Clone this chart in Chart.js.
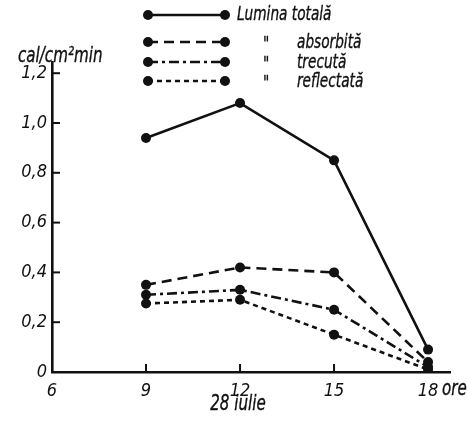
<!DOCTYPE html>
<html>
<head>
<meta charset="utf-8">
<script src="https://cdn.jsdelivr.net/npm/chart.js@4.4.0/dist/chart.umd.min.js"></script>
<style>
  html, body { margin: 0; padding: 0; background: #fff; }
  #wrap { width: 467px; height: 422px; position: relative; }
</style>
</head>
<body>
<div id="wrap"><canvas id="chart"></canvas></div>
<script>
// hours of the day, 28 iulie
var hours = [9, 12, 15, 18];
var totala = [0.94, 1.08, 0.85, 0.09];
var absorbita = [0.35, 0.42, 0.40, 0.04];
var trecuta = [0.31, 0.33, 0.25, 0.02];
var reflectata = [0.275, 0.29, 0.15, 0.01];

var xTicks = [6, 9, 12, 15, 18];
var yTicks = [0, 0.2, 0.4, 0.6, 0.8, 1.0, 1.2];
var legendNames = ['Lumina totală', 'absorbită', 'trecută', 'reflectată'];

var FONT = "'DejaVu Sans Condensed', 'DejaVu Sans', sans-serif";
var INK = '#111';

function pts(values) {
    return hours.map(function(h, i) { return { x: h, y: values[i] }; });
}

var dashes = [[], [10, 6], [10, 4, 3, 4], [5, 4]];
var series = [totala, absorbita, trecuta, reflectata];

var datasets = series.map(function(values, i) {
    return {
        label: legendNames[i],
        data: pts(values),
        borderColor: INK,
        backgroundColor: INK,
        borderWidth: 2.6,
        borderDash: dashes[i],
        pointRadius: 5,
        pointHoverRadius: 5,
        pointBackgroundColor: INK,
        pointBorderWidth: 0,
        tension: 0,
        fill: false
    };
});

// narrow italic text, squeezed horizontally like the printed lettering
function narrowText(ctx, text, x, y, size, align) {
    var sx = 0.8;
    ctx.save();
    ctx.font = 'italic ' + size + 'px ' + FONT;
    var w = ctx.measureText(text).width * sx;
    var left = x;
    if (align === 'center') left = x - w / 2;
    ctx.translate(left, y);
    ctx.scale(sx, 1);
    ctx.textAlign = 'left';
    ctx.textBaseline = 'middle';
    ctx.lineWidth = 0.35;
    ctx.fillText(text, 0, 0);
    ctx.strokeText(text, 0, 0);
    ctx.restore();
}

// draws inward tick marks, legend and extra texts
var decorPlugin = {
    id: 'decor',
    afterDraw: function(chart) {
        var ctx = chart.ctx;
        var xs = chart.scales.x, ys = chart.scales.y;
        var area = chart.chartArea;
        ctx.save();
        ctx.strokeStyle = INK;
        ctx.fillStyle = INK;
        ctx.lineWidth = 2;
        ctx.setLineDash([]);
        // y ticks point into the plot
        yTicks.forEach(function(v) {
            if (v === 0) return;
            var py = ys.getPixelForValue(v);
            ctx.beginPath();
            ctx.moveTo(area.left, py);
            ctx.lineTo(area.left + 8, py);
            ctx.stroke();
        });
        // x ticks point up
        xTicks.forEach(function(v) {
            if (v === 6) return;
            var px = xs.getPixelForValue(v);
            ctx.beginPath();
            ctx.moveTo(px, area.bottom);
            ctx.lineTo(px, area.bottom - 8);
            ctx.stroke();
        });

        narrowText(ctx, 'cal/cm²min', 18, 57, 21, 'left');
        narrowText(ctx, 'ore', xs.getPixelForValue(18) + 14, 390, 21, 'left');
        narrowText(ctx, '28 iulie', 238, 405, 21, 'center');

        // legend
        var rows = [15, 42, 62, 81];
        var x0 = 148, x1 = 225;
        datasets.forEach(function(ds, i) {
            var y = rows[i];
            ctx.beginPath();
            ctx.setLineDash(ds.borderDash);
            ctx.lineWidth = 2.6;
            ctx.moveTo(x0, y);
            ctx.lineTo(x1, y);
            ctx.stroke();
            ctx.setLineDash([]);
            [x0, x1].forEach(function(px) {
                ctx.beginPath();
                ctx.arc(px, y, 5, 0, Math.PI * 2);
                ctx.fill();
            });
            if (i === 0) {
                narrowText(ctx, legendNames[i], 237, y, 19, 'left');
            } else {
                narrowText(ctx, '"', 263, y + 3, 19, 'left');
                narrowText(ctx, legendNames[i], 297, y + 1, 19, 'left');
            }
        });
        ctx.restore();
    }
};

new Chart(document.getElementById('chart'), {
    type: 'line',
    data: { datasets: datasets },
    options: {
        responsive: true,
        maintainAspectRatio: false,
        animation: false,
        layout: { padding: { top: 62, right: 17, left: 0, bottom: 0 } },
        plugins: {
            legend: { display: false },
            tooltip: { enabled: false }
        },
        scales: {
            x: {
                type: 'linear',
                min: 6,
                max: 18.7,
                afterBuildTicks: function(scale) {
                    scale.ticks = xTicks.map(function(v) { return { value: v }; });
                },
                afterFit: function(scale) { scale.height = 50; },
                grid: { display: true, drawOnChartArea: false, drawTicks: false },
                border: { display: true, color: INK, width: 2.6 },
                ticks: {
                    color: INK,
                    padding: 9,
                    maxRotation: 0,
                    autoSkip: false,
                    font: { family: FONT, size: 18, style: 'italic' },
                    callback: function(v) { return String(v); }
                }
            },
            y: {
                type: 'linear',
                min: 0,
                max: 1.245,
                afterBuildTicks: function(scale) {
                    scale.ticks = yTicks.map(function(v) { return { value: v }; });
                },
                afterFit: function(scale) { scale.width = 52; },
                grid: { display: true, drawOnChartArea: false, drawTicks: false },
                border: { display: true, color: INK, width: 2.6 },
                ticks: {
                    color: INK,
                    padding: 5,
                    autoSkip: false,
                    font: { family: FONT, size: 18, style: 'italic' },
                    callback: function(v) {
                        return v === 0 ? '0' : v.toFixed(1).replace('.', ',');
                    }
                }
            }
        }
    },
    plugins: [decorPlugin]
});
</script>
</body>
</html>
